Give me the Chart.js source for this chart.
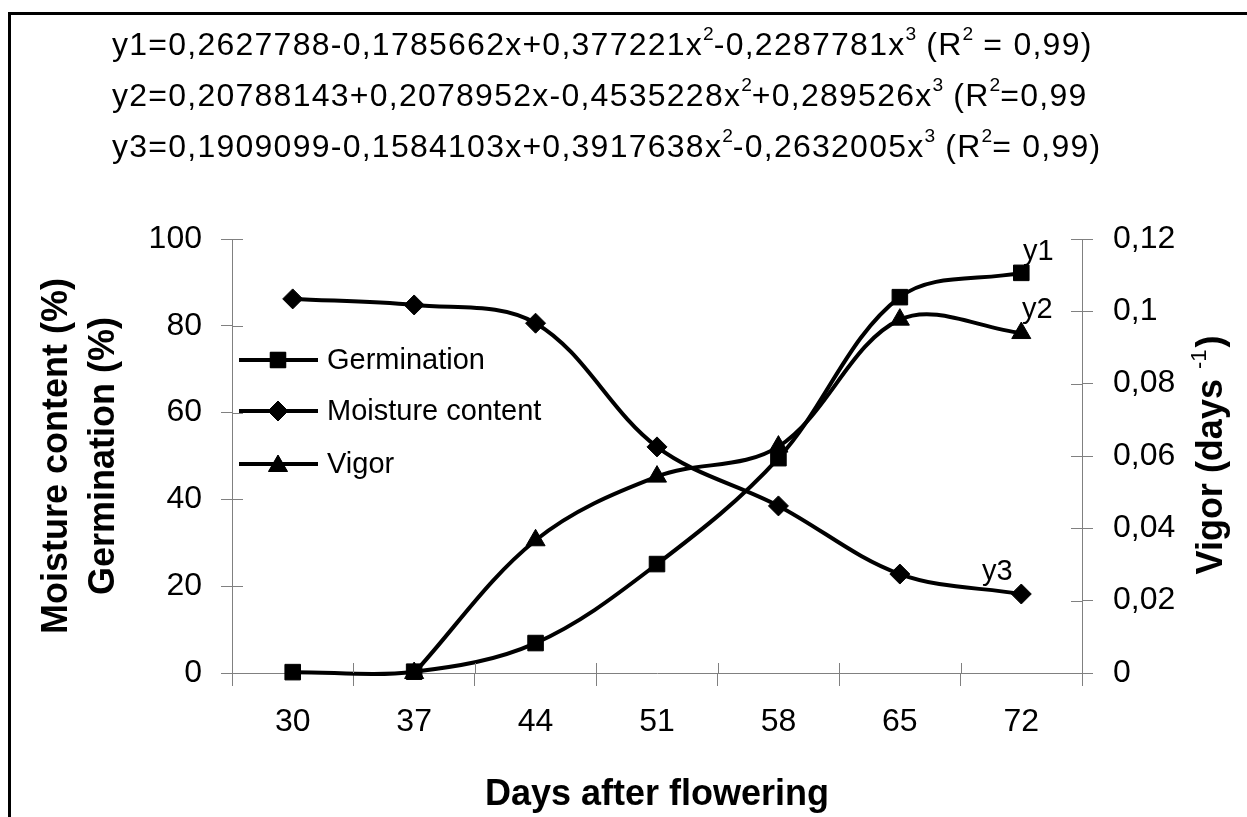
<!DOCTYPE html>
<html>
<head>
<meta charset="utf-8">
<script src="https://cdn.jsdelivr.net/npm/chart.js@4.4.1/dist/chart.umd.min.js"></script>
<style>
  html, body { margin: 0; padding: 0; background: #fff; }
  #wrap { position: relative; width: 1247px; height: 817px; overflow: hidden; background: #fff; }
  #frame { position: absolute; left: 8px; top: 12px; width: 1300px; height: 900px;
           border-top: 3px solid #000; border-left: 3px solid #000; pointer-events: none; }
  #eq { position: absolute; left: 112px; top: 19px; font-family: "Liberation Sans", Arial, sans-serif;
        font-size: 32px; color: #000; white-space: nowrap; letter-spacing: 1.25px; }
  #eq div { height: 51px; line-height: 50px; }
  #eq sup { font-size: 60%; vertical-align: 0; position: relative; top: -0.8em; letter-spacing: 0; line-height: 0; }
  canvas { position: absolute; left: 0; top: 0; }
</style>
</head>
<body>
<div id="wrap">
  <canvas id="c" width="1247" height="817"></canvas>
  <div id="eq">
    <div>y1=0,2627788-0,1785662x+0,377221x<sup>2</sup>-0,2287781x<sup>3</sup> (R<sup>2</sup> = 0,99)</div>
    <div>y2=0,20788143+0,2078952x-0,4535228x<sup>2</sup>+0,289526x<sup>3</sup> (R<sup>2</sup>=0,99</div>
    <div>y3=0,1909099-0,1584103x+0,3917638x<sup>2</sup>-0,2632005x<sup>3</sup> (R<sup>2</sup>= 0,99)</div>
  </div>
  <div id="frame"></div>
</div>
<script>
// ---- data ----
const categories = ['30', '37', '44', '51', '58', '65', '72'];
const germination = [0.2, 0.3, 6.9, 25.1, 49.5, 86.6, 92.2];
const moisture = [86.2, 84.8, 80.6, 52.1, 38.5, 22.8, 18.2];
const vigor = [null, 0, 0.0367, 0.0543, 0.0626, 0.0977, 0.094];
const leftTickLabels = ['0', '20', '40', '60', '80', '100'];
const rightTickLabels = ['0', '0,02', '0,04', '0,06', '0,08', '0,1', '0,12'];
const seriesNames = ['Germination', 'Moisture content', 'Vigor'];
const curveLabels = ['y1', 'y2', 'y3'];

const FONT = '"Liberation Sans", Arial, sans-serif';
const GRAY = '#808080';

const extrasPlugin = {
  id: 'extras',
  afterDraw(chart) {
    const ctx = chart.ctx;
    const ca = chart.chartArea;
    const xs = chart.scales.x, yl = chart.scales.y, yr = chart.scales.y1;
    ctx.save();
    // inner halves of cross tick marks
    ctx.strokeStyle = GRAY; ctx.lineWidth = 1;
    ctx.beginPath();
    yl.ticks.forEach((t, i) => {
      const py = Math.round(yl.getPixelForTick(i)) + 0.5;
      ctx.moveTo(ca.left, py); ctx.lineTo(ca.left + 11, py);
    });
    yr.ticks.forEach((t, i) => {
      const py = Math.round(yr.getPixelForTick(i)) + 0.5;
      ctx.moveTo(ca.right, py); ctx.lineTo(ca.right - 11, py);
    });
    const step = xs.getPixelForTick(1) - xs.getPixelForTick(0);
    for (let i = 0; i <= categories.length; i++) {
      const px = Math.round(xs.getPixelForTick(0) - step / 2 + i * step) + 0.5;
      ctx.moveTo(px, ca.bottom); ctx.lineTo(px, ca.bottom - 10);
    }
    ctx.stroke();

    ctx.fillStyle = '#000';
    ctx.textBaseline = 'middle';
    // axis titles
    ctx.font = 'bold 36px ' + FONT;
    ctx.textAlign = 'center';
    ctx.fillText('Days after flowering', (ca.left + ca.right) / 2, 795);
    const midY = (ca.top + ca.bottom) / 2;
    [['Moisture content (%)', 57], ['Germination (%)', 104]].forEach(([t, x]) => {
      ctx.save(); ctx.translate(x, midY); ctx.rotate(-Math.PI / 2);
      ctx.fillText(t, 0, 0); ctx.restore();
    });
    // right title with superscript
    ctx.save(); ctx.translate(1212, midY); ctx.rotate(-Math.PI / 2);
    ctx.textAlign = 'left';
    const p1 = 'Vigor (days ', sup = '-1', p2 = ')';
    ctx.font = 'bold 36px ' + FONT; const w1 = ctx.measureText(p1).width, w3 = ctx.measureText(p2).width;
    ctx.font = '22px ' + FONT; const w2 = ctx.measureText(sup).width;
    let x0 = -(w1 + w2 + w3) / 2;
    ctx.font = 'bold 36px ' + FONT; ctx.fillText(p1, x0, 0);
    ctx.font = '22px ' + FONT; ctx.fillText(sup, x0 + w1, -12);
    ctx.font = 'bold 36px ' + FONT; ctx.fillText(p2, x0 + w1 + w2 + 2, 0);
    ctx.restore();

    // legend inside plot
    const rows = [360, 411, 464];
    const styles = ['rect', 'rectRot', 'triangle'];
    const radii = [11, 10, 11];
    ctx.font = '29px ' + FONT;
    ctx.textAlign = 'left';
    rows.forEach((ry, i) => {
      ctx.strokeStyle = '#000'; ctx.lineWidth = 4;
      ctx.beginPath(); ctx.moveTo(239, ry); ctx.lineTo(318, ry); ctx.stroke();
      ctx.lineWidth = 1;
      Chart.helpers.drawPoint(ctx, { pointStyle: styles[i], radius: radii[i], rotation: 0, borderWidth: 1 }, 278, ry + (i === 2 ? 2 : 0));
      ctx.fillStyle = '#000';
      ctx.fill();
      ctx.fillText(seriesNames[i], 327, ry + 1);
    });

    // curve labels y1, y2, y3 near the last points
    ctx.font = '29px ' + FONT;
    ctx.textAlign = 'center';
    const last = categories.length - 1;
    const lx = xs.getPixelForValue(last);
    ctx.fillText(curveLabels[0], lx + 17, yl.getPixelForValue(germination[last]) - 21);
    ctx.fillText(curveLabels[1], lx + 16, yr.getPixelForValue(vigor[last]) - 23);
    ctx.fillText(curveLabels[2], lx - 24, yl.getPixelForValue(moisture[last]) - 22);
    ctx.restore();
  }
};

const common = {
  borderColor: '#000', backgroundColor: '#000', borderWidth: 4,
  pointBorderColor: '#000', pointBackgroundColor: '#000', pointBorderWidth: 1,
  tension: 0.35, clip: false, fill: false
};

new Chart(document.getElementById('c'), {
  type: 'line',
  data: {
    labels: categories,
    datasets: [
      Object.assign({ label: seriesNames[0], data: germination, yAxisID: 'y', pointStyle: 'rect', pointRadius: 11 }, common),
      Object.assign({ label: seriesNames[1], data: moisture, yAxisID: 'y', pointStyle: 'rectRot', pointRadius: 10 }, common),
      Object.assign({ label: seriesNames[2], data: vigor, yAxisID: 'y1', pointStyle: 'triangle', pointRadius: 11 }, common)
    ]
  },
  options: {
    responsive: false,
    devicePixelRatio: 1,
    animation: false,
    elements: { line: { capBezierPoints: false } },
    layout: { padding: { top: 239, left: 0, right: 0, bottom: 0 } },
    plugins: { legend: { display: false }, tooltip: { enabled: false }, title: { display: false } },
    scales: {
      x: {
        type: 'category', offset: true,
        grid: { offset: true, drawOnChartArea: false, tickLength: 13, color: GRAY, tickColor: GRAY },
        border: { color: GRAY, width: 1 },
        ticks: { font: { size: 32, family: FONT }, color: '#000', padding: 17, maxRotation: 0 },
        afterFit(s) { s.height = 144; }
      },
      y: {
        position: 'left', min: 0, max: 100,
        grid: { drawOnChartArea: false, tickLength: 11, color: GRAY, tickColor: GRAY },
        border: { color: GRAY, width: 1 },
        ticks: { stepSize: 20, font: { size: 32, family: FONT }, color: '#000', padding: 19,
                 callback: (v, i) => leftTickLabels[i] },
        afterFit(s) { s.width = 232; }
      },
      y1: {
        position: 'right', min: 0, max: 0.12,
        grid: { drawOnChartArea: false, tickLength: 11, color: GRAY, tickColor: GRAY },
        border: { color: GRAY, width: 1 },
        ticks: { stepSize: 0.02, font: { size: 32, family: FONT }, color: '#000', padding: 20,
                 callback: (v, i) => rightTickLabels[i] },
        afterFit(s) { s.width = 165; }
      }
    }
  },
  plugins: [extrasPlugin]
});
</script>
</body>
</html>
